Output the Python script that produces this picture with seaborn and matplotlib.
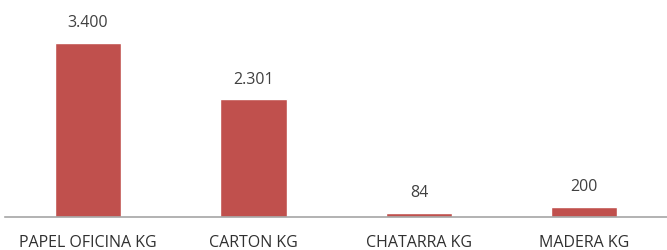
import matplotlib
matplotlib.use("Agg")
import matplotlib.pyplot as plt
import seaborn as sns
import pandas as pd

categorias = ["PAPEL OFICINA KG", "CARTON KG", "CHATARRA KG", "MADERA KG"]
valores = [3400, 2301, 84, 200]
etiquetas = ["3.400", "2.301", "84", "200"]

df = pd.DataFrame({"categoria": categorias, "kg": valores})

sns.set_style("white")
plt.rcParams["font.family"] = ["Open Sans", "DejaVu Sans"]

fig = plt.figure(figsize=(6.67, 2.5), dpi=100)
ax = fig.add_axes([0.008, 0.132, 0.992, 0.82])

sns.barplot(data=df, x="categoria", y="kg", color="#C0504D", width=0.4,
            saturation=1, ax=ax)

for i, (v, t) in enumerate(zip(valores, etiquetas)):
    ax.text(i, v + 220, t, ha="center", va="bottom", fontsize=11.5, color="#404040")

ax.set_ylim(0, 4000)
ax.set_xlim(-0.5, 3.5)
ax.set_xlabel("")
ax.set_ylabel("")
ax.set_yticks([])
ax.tick_params(axis="x", length=0, pad=13, labelsize=11.5, labelcolor="#303030")
for s in ["top", "right", "left"]:
    ax.spines[s].set_visible(False)
ax.spines["bottom"].set_color("#A6A6A6")
ax.spines["bottom"].set_linewidth(1.2)

fig.savefig("out.png", dpi=100)
